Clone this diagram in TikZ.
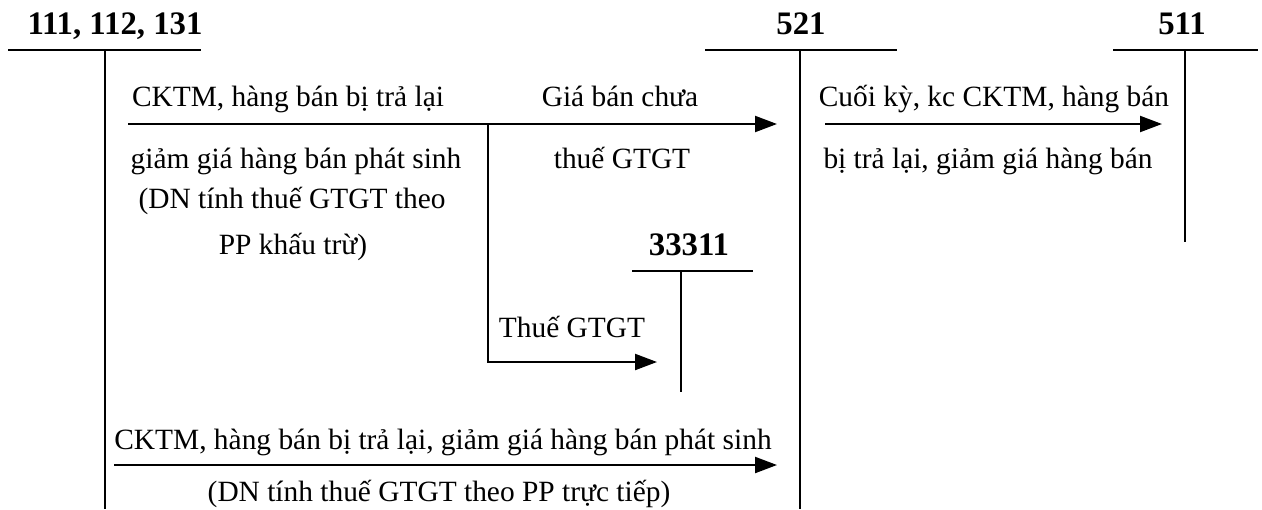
\documentclass[tikz,border=0pt]{standalone}
\usepackage{fontspec}
\setmainfont{Liberation Serif}
\usetikzlibrary{arrows.meta}
\begin{document}
\begin{tikzpicture}[x=0.5pt,y=-0.5pt,
  tline/.style={line width=1.1pt},
  flow/.style={line width=1.1pt,-{Triangle[length=11pt,width=8pt]}},
  txt/.style={inner sep=0pt,anchor=base,font=\fontsize{14.7}{17}\selectfont},
  acct/.style={inner sep=0pt,anchor=base,font=\fontsize{16.4}{19}\selectfont\bfseries}]
\useasboundingbox (0,0) rectangle (1262,509);

% T-accounts: title, horizontal bar, vertical stem
\node[acct] (a111) at (115,34) {111, 112, 131};
\coordinate (a111L) at (8,50);   \coordinate (a111R) at (201,50);
\coordinate (a111T) at (105,50); \coordinate (a111B) at (105,509);
\draw[tline] (a111L) -- (a111R);
\draw[tline] (a111T) -- (a111B);

\node[acct] (a521) at (801,34) {521};
\coordinate (a521L) at (705,50); \coordinate (a521R) at (897,50);
\coordinate (a521T) at (800,50); \coordinate (a521B) at (800,509);
\draw[tline] (a521L) -- (a521R);
\draw[tline] (a521T) -- (a521B);

\node[acct] (a511) at (1182,34) {511};
\coordinate (a511L) at (1113,50); \coordinate (a511R) at (1258,50);
\coordinate (a511T) at (1185,50); \coordinate (a511B) at (1185,242);
\draw[tline] (a511L) -- (a511R);
\draw[tline] (a511T) -- (a511B);

\node[acct] (a333) at (689,255) {33311};
\coordinate (a333L) at (632,271); \coordinate (a333R) at (753,271);
\coordinate (a333T) at (681,271); \coordinate (a333B) at (681,392);
\draw[tline] (a333L) -- (a333R);
\draw[tline] (a333T) -- (a333B);

% flows
\coordinate (s1) at (128,124);  \coordinate (e1) at (777,124);
\coordinate (br) at (488,124);  \coordinate (bc) at (488,362);
\coordinate (e2) at (657,362);
\coordinate (s3) at (825,124);  \coordinate (e3) at (1162,124);
\coordinate (s4) at (114,465);  \coordinate (e4) at (777,465);
\draw[flow] (s1) -- (e1);
\draw[flow] (br) -- (bc) -- (e2);
\draw[flow] (s3) -- (e3);
\draw[flow] (s4) -- (e4);

% labels
\node[txt] (t1) at (288,106) {CKTM, hàng bán bị trả lại};
\node[txt] (t2) at (296,168) {giảm giá hàng bán phát sinh};
\node[txt] (t3) at (292,208) {(DN tính thuế GTGT theo};
\node[txt] (t4) at (293,254) {PP khấu trừ)};
\node[txt] (t5) at (620,106) {Giá bán chưa};
\node[txt] (t6) at (622,168) {thuế GTGT};
\node[txt] (t7) at (572,337) {Thuế GTGT};
\node[txt] (t8) at (994,106) {Cuối kỳ, kc CKTM, hàng bán};
\node[txt] (t9) at (988,168) {bị trả lại, giảm giá hàng bán};
\node[txt] (t10) at (443,449) {CKTM, hàng bán bị trả lại, giảm giá hàng bán phát sinh};
\node[txt] (t11) at (439,501) {(DN tính thuế GTGT theo PP trực tiếp)};
\end{tikzpicture}
\end{document}
